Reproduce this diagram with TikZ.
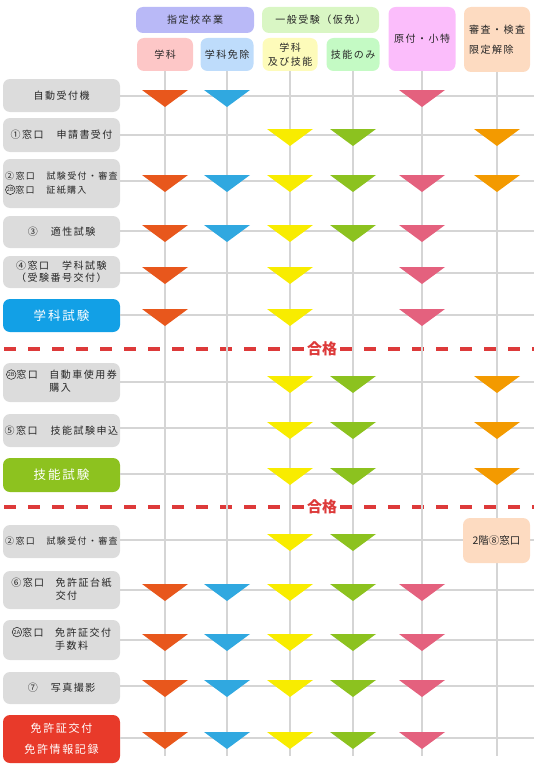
\documentclass[tikz,border=0pt]{standalone}
\usepackage{fontspec}
\newfontfamily\jp[LetterSpace=15]{Noto Sans CJK JP}
\newfontfamily\jpn{Noto Sans CJK JP}
\definecolor{txt}{HTML}{262626}
\definecolor{boxgray}{HTML}{DCDCDC}
\definecolor{gridgray}{HTML}{D5D5D5}
\definecolor{passred}{HTML}{DD3A3A}
\definecolor{hA}{HTML}{B9B9F7}
\definecolor{hB}{HTML}{D9F6C4}
\definecolor{hC}{HTML}{FBBDFB}
\definecolor{hD}{HTML}{FDDBC1}
\definecolor{s1}{HTML}{FDC7C7}
\definecolor{s2}{HTML}{BEDCFB}
\definecolor{s3}{HTML}{FDFBBA}
\definecolor{s4}{HTML}{C4FAC4}
\definecolor{t1}{HTML}{E8571C}
\definecolor{t2}{HTML}{30A8E0}
\definecolor{t3}{HTML}{F8EC00}
\definecolor{t4}{HTML}{8CC21F}
\definecolor{t5}{HTML}{E4617E}
\definecolor{t6}{HTML}{F39A00}
\definecolor{kblue}{HTML}{12A0E6}
\definecolor{kgreen}{HTML}{8DC21F}
\definecolor{kred}{HTML}{E83A2A}
\newcommand\cirlab[1]{\tikz[baseline={([yshift=-2pt]cl.base)}]\node[circle,draw=txt,line width=0.55pt,inner sep=0pt,minimum size=9.6pt,font=\jpn\fontsize{5.6}{5.6}\selectfont,text=txt](cl){#1};}
\newcommand\tri[3]{\fill[#1] (#2-23,#3-6) -- (#2+23,#3-6) -- (#2,#3+11) -- cycle;}
\newcommand\trirow[2]{\foreach \c in {#2}{\pgfmathsetmacro\xx{{165,227,290,353,422,497}[\c-1]}\tri{t\c}{\xx}{#1}}}
\begin{document}
\begin{tikzpicture}[x=1pt,y=-1pt,
  lbox/.style={fill=boxgray,rounded corners=7pt,minimum width=117pt,inner sep=0pt,align=center,text=txt,font=\jp\fontsize{10}{13}\selectfont},
  hbox/.style={rounded corners=7pt,inner sep=0pt,align=center,text=txt,font=\jp\fontsize{10}{14}\selectfont},
  gridline/.style={draw=gridgray,line width=2.8pt},
  pass/.style={draw=passred,line width=3.5pt,dash pattern=on 12pt off 12pt,dash phase=-4pt},
  passlabel/.style={fill=white,inner sep=1.5pt,text=passred,font=\jpn\bfseries\fontsize{15}{15}\selectfont},
  bigtxt/.style={text=white,font=\jp\fontsize{12.5}{14}\selectfont},
  smtxt/.style={font=\jp\fontsize{9}{14}\selectfont}]
\useasboundingbox (0,0) rectangle (534,768);
% headers
\node[hbox,fill=hA,minimum width=118pt,minimum height=26pt] (hA) at (195,20) {指定校卒業};
\node[hbox,fill=hB,minimum width=117pt,minimum height=26pt] (hB) at (320.5,20) {一般受験（仮免）};
\node[hbox,fill=hC,minimum width=67pt,minimum height=64pt] (hC) at (422,39) {原付・小特};
\node[hbox,fill=hD,minimum width=66pt,minimum height=65pt,align=left,font=\jp\fontsize{10}{20}\selectfont] (hD) at (497,39.5) {審査・検査\\限定解除};
\node[hbox,fill=s1,minimum width=56pt,minimum height=33pt] (s1) at (165,54.5) {学科};
\node[hbox,fill=s2,minimum width=53pt,minimum height=33pt] (s2) at (227,54.5) {学科免除};
\node[hbox,fill=s3,minimum width=55pt,minimum height=33pt] (s3) at (290,54.5) {学科\\及び技能};
\node[hbox,fill=s4,minimum width=53pt,minimum height=33pt] (s4) at (353,54.5) {技能のみ};
% left boxes
\node[lbox,minimum height=33pt] (r1) at (61.5,95.5) {自動受付機};
\node[lbox,minimum height=34pt] (r2) at (61.5,135) {①窓口　申請書受付};
\node[lbox,minimum height=49pt,align=left,smtxt] (r3) at (61.5,183.5) {②窓口　試験受付・審査\\\cirlab{2B}窓口　証紙購入};
\node[lbox,minimum height=32pt] (r4) at (61.5,232) {③　適性試験};
\node[lbox,minimum height=32pt,font=\jp\fontsize{10}{12}\selectfont] (r5) at (61.5,272) {④窓口　学科試験\\（受験番号交付）};
\node[lbox,fill=kblue,bigtxt,minimum height=33pt] (r6) at (61.5,315.5) {学科試験};
\node[lbox,minimum height=39pt] (r7) at (61.5,382.5) {\begin{tabular}{@{}l@{}l@{}}\cirlab{2B}窓口　&自動車使用券\\&購入\end{tabular}};
\node[lbox,minimum height=33pt] (r8) at (61.5,430.5) {⑤窓口　技能試験申込};
\node[lbox,fill=kgreen,bigtxt,minimum height=34pt] (r9) at (61.5,475) {技能試験};
\node[lbox,minimum height=33pt,smtxt] (r10) at (61.5,541.5) {②窓口　試験受付・審査};
\node[lbox,minimum height=38pt] (r11) at (61.5,590) {\begin{tabular}{@{}l@{}l@{}}⑥窓口　&免許証台紙\\&交付\end{tabular}};
\node[lbox,minimum height=40pt] (r12) at (61.5,640) {\begin{tabular}{@{}l@{}l@{}}\cirlab{2A}窓口　&免許証交付\\&手数料\end{tabular}};
\node[lbox,minimum height=32pt] (r13) at (61.5,688) {⑦　写真撮影};
\node[lbox,fill=kred,text=white,font=\jp\fontsize{11}{21}\selectfont,minimum height=48pt] (r14) at (61.5,739) {免許証交付\\免許情報記録};
% horizontal grid lines
\foreach \r/\y in {r1/96,r2/135,r3/181,r4/231,r5/273,r6/315,r7/382,r8/428,r9/474,r10/540,r11/590,r12/640,r13/686,r14/738}
  \draw[gridline] (\r.east |- 0,\y) -- (534,\y);
% pass lines
\draw[pass] (0,349) -- (534,349);
\draw[pass] (0,507) -- (534,507);
% vertical grid lines
\foreach \n in {s1,s2,s3,s4,hC,hD}
  \draw[gridline] (\n.south) -- (\n.south |- 0,756);
\node[passlabel] (g1) at (322,349) {合格};
\node[passlabel] (g2) at (322,507) {合格};
% triangles
\trirow{96}{1,2,5}
\trirow{135}{3,4,6}
\trirow{181}{1,2,3,4,5,6}
\trirow{231}{1,2,3,4,5}
\trirow{273}{1,3,5}
\trirow{315}{1,3,5}
\trirow{382}{3,4,6}
\trirow{428}{3,4,6}
\trirow{474}{3,4,6}
\trirow{540}{3,4}
\trirow{590}{1,2,3,4,5}
\trirow{640}{1,2,3,4,5}
\trirow{686}{1,2,3,4,5}
\trirow{738}{1,2,3,4,5}
\node[hbox,fill=hD,minimum width=67pt,minimum height=45pt,font=\jpn\fontsize{10.5}{12}\selectfont] (k8) at (496.5,540.5) {2階⑧窓口};
\end{tikzpicture}
\end{document}
